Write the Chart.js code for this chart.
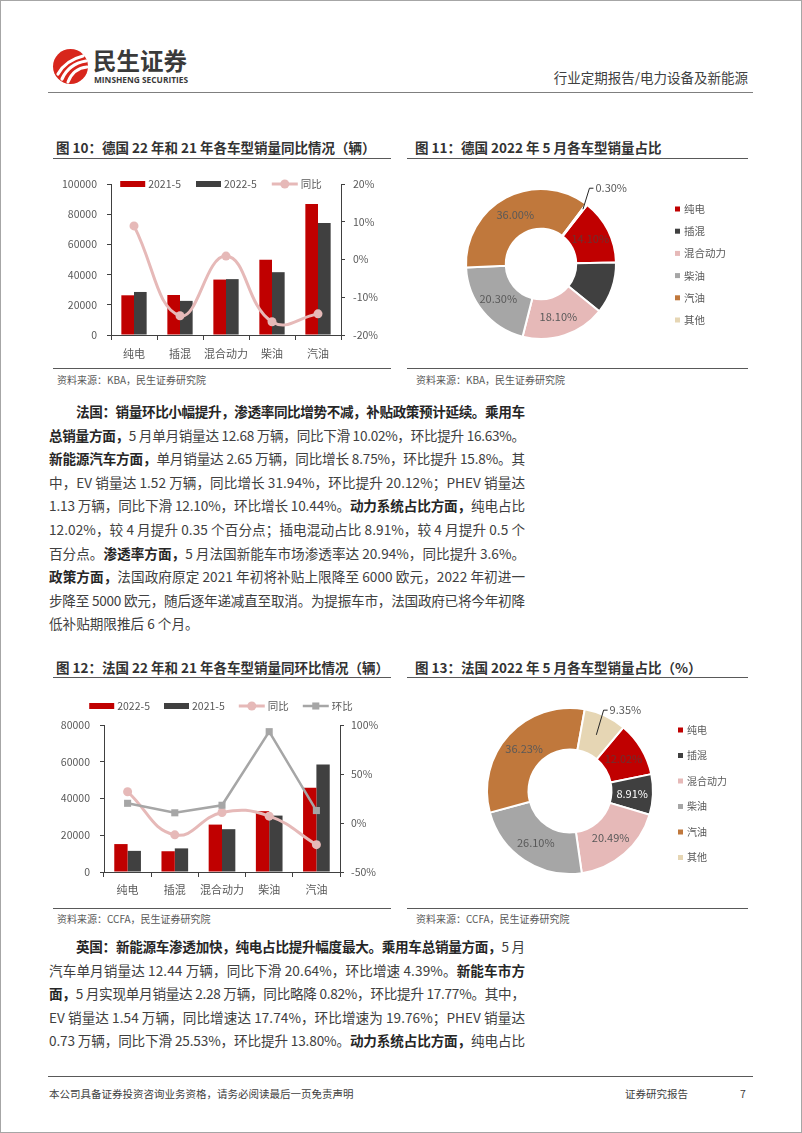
<!DOCTYPE html>
<html lang="zh-CN">
<head>
<meta charset="utf-8">
<script src="https://cdn.jsdelivr.net/npm/chart.js@4.4.0/dist/chart.umd.min.js"></script>
<style>
  html, body { margin: 0; padding: 0; background: #fff; }
  #page { position: relative; width: 800px; height: 1131px; overflow: hidden; border: 1px solid #a6a6a6;
          font-family: "Noto Sans CJK SC", sans-serif; color: #404040; background: #fff; }
  .rule { position: absolute; height: 0; border-top: 1.5px solid #595959; }
  .title { position: absolute; font-size: 13.5px; font-weight: 700; color: #333; line-height: 16px; white-space: nowrap; }
  .src { position: absolute; font-size: 10px; color: #595959; line-height: 12px; white-space: nowrap; }
  .ln { position: absolute; font-size: 13.6px; line-height: 18px; white-space: nowrap; color: #404040; }
  .ln b { color: #262626; }
  .foot { position: absolute; font-size: 10.5px; line-height: 14px; color: #404040; white-space: nowrap; }
  canvas { position: absolute; }
</style>
</head>
<body>
<div id="page">
  <!-- header -->
  <svg style="position:absolute;left:51px;top:47px" width="37" height="37" viewBox="0 0 37 37">
    <ellipse cx="18.5" cy="18.5" rx="17.5" ry="17.5" fill="#D8261C"/>
    <path d="M6 26 C 11 17, 19 11, 31 8" stroke="#fff" stroke-width="3.2" fill="none" stroke-linecap="round"/>
    <path d="M10 31 C 14 22, 22 15, 34 13" stroke="#fff" stroke-width="3.2" fill="none" stroke-linecap="round"/>
    <path d="M16 34 C 19 26, 25 20, 35 19" stroke="#fff" stroke-width="3" fill="none" stroke-linecap="round"/>
  </svg>
  <div style="position:absolute;left:92px;top:46px;font-size:23.5px;font-weight:700;color:#3a3a3a;line-height:26px;white-space:nowrap">民生证券</div>
  <div id="logoEn" style="position:absolute;left:93px;top:73px;font-family:'Open Sans',sans-serif;font-size:8.5px;font-weight:700;color:#3a3a3a;line-height:11px;white-space:nowrap;transform-origin:0 0">MINSHENG SECURITIES</div>
  <div style="position:absolute;right:53px;top:67px;font-size:13.5px;line-height:18px;color:#404040;white-space:nowrap">行业定期报告/电力设备及新能源</div>
  <div class="rule" style="left:47px;width:705px;top:91px;border-top:1.5px solid #7f7f7f"></div>

  <!-- figure titles, top row -->
  <div class="title" style="left:55px;top:138px">图 10：德国 22 年和 21 年各车型销量同比情况（辆）</div>
  <div class="title" style="left:414px;top:138px">图 11：德国 2022 年 5 月各车型销量占比</div>
  <div class="rule" style="left:52px;width:338px;top:157px"></div>
  <div class="rule" style="left:406px;width:341px;top:157px"></div>
  <canvas id="deBar" width="340" height="201" style="left:50px;top:165px"></canvas>
  <canvas id="deShare" width="347" height="206" style="left:405px;top:160px"></canvas>
  <div class="rule" style="left:52px;width:338px;top:367px"></div>
  <div class="rule" style="left:406px;width:341px;top:367px"></div>
  <div class="src" style="left:56px;top:373px">资料来源：KBA，民生证券研究院</div>
  <div class="src" style="left:415px;top:373px">资料来源：KBA，民生证券研究院</div>

  <!-- figure titles, bottom row -->
  <div class="title" style="left:55px;top:658px">图 12：法国 22 年和 21 年各车型销量同环比情况（辆）</div>
  <div class="title" style="left:414px;top:658px">图 13：法国 2022 年 5 月各车型销量占比（%）</div>
  <div class="rule" style="left:52px;width:338px;top:676px"></div>
  <div class="rule" style="left:406px;width:341px;top:676px"></div>
  <canvas id="frBar" width="340" height="216" style="left:50px;top:690px"></canvas>
  <canvas id="frShare" width="347" height="220" style="left:405px;top:685px"></canvas>
  <div class="rule" style="left:52px;width:338px;top:907px"></div>
  <div class="rule" style="left:406px;width:341px;top:907px"></div>
  <div class="src" style="left:56px;top:912px">资料来源：CCFA，民生证券研究院</div>
  <div class="src" style="left:415px;top:912px">资料来源：CCFA，民生证券研究院</div>

  <div id="body"></div>

  <!-- footer -->
  <div class="rule" style="left:47px;width:705px;top:1075px;border-top:1px solid #595959"></div>
  <div class="foot" style="left:48px;top:1086px">本公司具备证券投资咨询业务资格，请务必阅读最后一页免责声明</div>
  <div class="foot" style="left:624px;top:1086px">证券研究报告</div>
  <div class="foot" style="left:739px;top:1086px">7</div>
</div>

<script>
// ---- data ----
const categories = ['纯电', '插混', '混合动力', '柴油', '汽油'];

// 图10 德国
const deSales2021 = [26300, 26500, 36700, 49800, 86700];
const deSales2022 = [28500, 22600, 37000, 41600, 74100];
const deYoY = [8.9, -14.9, 0.9, -16.5, -14.4];

// 图12 法国
const frSales2022 = [15200, 11300, 25800, 33100, 45800];
const frSales2021 = [11500, 12850, 23300, 30700, 58500];
const frYoY = [31.9, -12.1, 10.7, 7.0, -22.1];
const frMoM = [20.1, 10.4, 18.1, 93.2, 12.7];

// 图11 / 图13 占比
const shareLabels = ['纯电', '插混', '混合动力', '柴油', '汽油', '其他'];
const deShare = [14.10, 11.20, 18.10, 20.30, 36.00, 0.30];
const frShare = [12.02, 8.91, 20.49, 26.10, 36.23, 9.35];

const RED = '#C00000', DARK = '#404040', PINK = '#E6B9B8', GREY = '#A6A6A6';
const BROWN = '#C0783C', BEIGE = '#E6D6B4';
const shareColors = [RED, DARK, PINK, GREY, BROWN, BEIGE];
const AXIS = '#404040';

Chart.defaults.font.family = '"Noto Sans CJK SC", sans-serif';
Chart.defaults.font.size = 10.5;
Chart.defaults.color = '#595959';
Chart.defaults.animation = false;
Chart.defaults.plugins.legend.display = false;
Chart.defaults.plugins.tooltip.enabled = false;

function drawMarker(ctx, style, x, y, r) {
  ctx.beginPath();
  if (style === 'rect') {
    const s = r * Math.SQRT1_2;
    ctx.rect(x - s, y - s, 2 * s, 2 * s);
  } else {
    ctx.arc(x, y, r, 0, Math.PI * 2);
  }
  ctx.fill();
}

// legend laid out in one row, centred on the canvas
function rowLegend(y, gap) {
  return {
    id: 'rowLegend',
    afterDraw(chart) {
      const ctx = chart.ctx;
      ctx.save();
      ctx.font = '10.5px "Noto Sans CJK SC", sans-serif';
      ctx.textBaseline = 'middle';
      const items = chart.data.datasets.map(ds => ({
        ds, w: ds.type === 'line' ? 26 : 25, tw: ctx.measureText(ds.label).width
      }));
      const total = items.reduce((s, it) => s + it.w + 3 + it.tw, 0) + gap * (items.length - 1);
      let x = (chart.width - total) / 2;
      items.forEach(it => {
        const ds = it.ds;
        if (ds.type === 'line') {
          ctx.strokeStyle = ds.borderColor;
          ctx.lineWidth = ds.borderWidth;
          ctx.beginPath();
          ctx.moveTo(x, y);
          ctx.lineTo(x + it.w, y);
          ctx.stroke();
          ctx.fillStyle = ds.pointBackgroundColor;
          drawMarker(ctx, ds.pointStyle, x + it.w / 2, y, ds.pointRadius);
        } else {
          ctx.fillStyle = ds.backgroundColor;
          ctx.fillRect(x, y - 3, it.w, 6);
        }
        x += it.w + 3;
        ctx.fillStyle = '#595959';
        ctx.fillText(ds.label, x, y);
        x += it.tw + gap;
      });
      ctx.restore();
    }
  };
}

// legend laid out as a column at the right of a doughnut
function columnLegend(x, y0, step, size) {
  return {
    id: 'columnLegend',
    afterDraw(chart) {
      const ctx = chart.ctx;
      const colors = chart.data.datasets[0].backgroundColor;
      ctx.save();
      ctx.font = size + 'px "Noto Sans CJK SC", sans-serif';
      ctx.textBaseline = 'middle';
      chart.data.labels.forEach((lab, i) => {
        const y = y0 + i * step;
        ctx.fillStyle = colors[i];
        ctx.fillRect(x, y - 2.5, 5, 5);
        ctx.fillStyle = '#595959';
        ctx.fillText(lab, x + 9, y);
      });
      ctx.restore();
    }
  };
}

// value labels on the slices, one of them with a leader line
function sliceLabels(cfg) {
  return {
    id: 'sliceLabels',
    afterDatasetsDraw(chart) {
      const ctx = chart.ctx;
      const ds = chart.data.datasets[0];
      const meta = chart.getDatasetMeta(0);
      ctx.save();
      ctx.font = '11px "Noto Sans CJK SC", sans-serif';
      ctx.textBaseline = 'middle';
      meta.data.forEach((arc, i) => {
        if (cfg.hide.includes(i)) return;
        const text = ds.data[i].toFixed(2) + '%';
        ctx.fillStyle = cfg.colors[i] || '#595959';
        if (cfg.callout && cfg.callout.index === i) {
          const c = cfg.callout;
          const mid = (arc.startAngle + arc.endAngle) / 2;
          const r = arc.outerRadius - c.inset;
          const sx = arc.x + Math.cos(mid) * r, sy = arc.y + Math.sin(mid) * r;
          const ex = sx + c.dx, ey = sy + c.dy;
          ctx.strokeStyle = '#262626';
          ctx.lineWidth = 1;
          ctx.beginPath();
          ctx.moveTo(sx, sy);
          ctx.lineTo(ex, ey);
          ctx.lineTo(ex + 4, ey);
          ctx.stroke();
          ctx.fillStyle = '#595959';
          ctx.textAlign = 'left';
          ctx.fillText(text, ex + 6, ey);
        } else {
          const p = arc.tooltipPosition();
          ctx.textAlign = 'center';
          ctx.fillText(text, p.x, p.y);
        }
      });
      ctx.restore();
    }
  };
}

function barScales(opt) {
  return {
    x: {
      grid: { drawOnChartArea: false, drawTicks: true, tickLength: 5, color: AXIS },
      border: { display: true, color: AXIS },
      ticks: { padding: opt.xPad, font: { size: 11 }, maxRotation: 0, minRotation: 0, autoSkip: false },
      afterFit: s => { s.height = opt.xH; }
    },
    y: {
      position: 'left', min: 0, max: opt.leftMax, ticks: { stepSize: opt.leftStep, padding: 10, callback: v => String(v) },
      grid: { drawOnChartArea: false, tickLength: 4, color: AXIS },
      border: { display: true, color: AXIS },
      afterFit: s => { s.width = opt.leftW; }
    },
    y1: {
      position: 'right', min: opt.rMin, max: opt.rMax, ticks: { stepSize: opt.rStep, padding: opt.rPad, callback: v => v + '%' },
      grid: { drawOnChartArea: false, tickLength: 4, color: AXIS },
      border: { display: true, color: AXIS },
      afterFit: s => { s.width = opt.rightW; }
    }
  };
}

// 图10
new Chart(document.getElementById('deBar'), {
  type: 'bar',
  data: {
    labels: categories,
    datasets: [
      { type: 'bar', label: '2021-5', data: deSales2021, backgroundColor: RED, yAxisID: 'y', order: 2,
        categoryPercentage: 0.55, barPercentage: 1 },
      { type: 'bar', label: '2022-5', data: deSales2022, backgroundColor: DARK, yAxisID: 'y', order: 2,
        categoryPercentage: 0.55, barPercentage: 1 },
      { type: 'line', label: '同比', data: deYoY, yAxisID: 'y1', order: 1,
        borderColor: PINK, backgroundColor: PINK, borderWidth: 3, tension: 0.45,
        pointStyle: 'circle', pointRadius: 4.5, pointBackgroundColor: PINK, pointBorderColor: PINK, pointBorderWidth: 0 }
    ]
  },
  options: {
    responsive: false,
    layout: { padding: { top: 18, left: 0, right: 0, bottom: 0 } },
    scales: barScales({ xPad: 7, xH: 32, leftMax: 100000, leftStep: 20000, leftW: 60,
                        rMin: -20, rMax: 20, rStep: 10, rPad: 8, rightW: 50 })
  },
  plugins: [rowLegend(18, 15)]
});

// 图12
new Chart(document.getElementById('frBar'), {
  type: 'bar',
  data: {
    labels: categories,
    datasets: [
      { type: 'bar', label: '2022-5', data: frSales2022, backgroundColor: RED, yAxisID: 'y', order: 3,
        categoryPercentage: 0.565, barPercentage: 1 },
      { type: 'bar', label: '2021-5', data: frSales2021, backgroundColor: DARK, yAxisID: 'y', order: 3,
        categoryPercentage: 0.565, barPercentage: 1 },
      { type: 'line', label: '同比', data: frYoY, yAxisID: 'y1', order: 2,
        borderColor: PINK, backgroundColor: PINK, borderWidth: 3, tension: 0.45,
        pointStyle: 'circle', pointRadius: 4.5, pointBackgroundColor: PINK, pointBorderColor: PINK, pointBorderWidth: 0 },
      { type: 'line', label: '环比', data: frMoM, yAxisID: 'y1', order: 1,
        borderColor: GREY, backgroundColor: GREY, borderWidth: 2.5, tension: 0,
        pointStyle: 'rect', pointRadius: 5, pointBackgroundColor: GREY, pointBorderColor: GREY, pointBorderWidth: 0 }
    ]
  },
  options: {
    responsive: false,
    layout: { padding: { top: 34, left: 0, right: 0, bottom: 0 } },
    scales: barScales({ xPad: 6, xH: 35, leftMax: 80000, leftStep: 20000, leftW: 53,
                        rMin: -50, rMax: 100, rStep: 50, rPad: 7, rightW: 51 })
  },
  plugins: [rowLegend(15, 14)]
});

// 图11
new Chart(document.getElementById('deShare'), {
  type: 'doughnut',
  data: {
    labels: shareLabels,
    datasets: [{ data: deShare, backgroundColor: shareColors, borderColor: '#fff', borderWidth: 2 }]
  },
  options: {
    responsive: false,
    rotation: 38,
    cutout: '47%',
    layout: { padding: { left: 59, top: 27, right: 136, bottom: 27 } }
  },
  plugins: [
    sliceLabels({ hide: [1], colors: ['#6b3030'], callout: { index: 5, inset: 6, dx: 6.5, dy: -21 } }),
    columnLegend(269, 48, 22.2, 10.5)
  ]
});

// 图13
new Chart(document.getElementById('frShare'), {
  type: 'doughnut',
  data: {
    labels: shareLabels,
    datasets: [{ data: frShare, backgroundColor: shareColors, borderColor: '#fff', borderWidth: 2 }]
  },
  options: {
    responsive: false,
    rotation: 40,
    cutout: '50%',
    layout: { padding: { left: 80, top: 21, right: 99, bottom: 31 } }
  },
  plugins: [
    sliceLabels({ hide: [], colors: ['#6b3030', '#ffffff'], callout: { index: 5, inset: 21, dx: 7.3, dy: -24.7 } }),
    columnLegend(272, 44, 25.5, 10)
  ]
});

// ---- body text, one entry per printed line ----
const para1 = [
  '<b>法国：销量环比小幅提升，渗透率同比增势不减，补贴政策预计延续。乘用车</b>',
  '<b>总销量方面，</b>5 月单月销量达 12.68 万辆，同比下滑 10.02%，环比提升 16.63%。',
  '<b>新能源汽车方面，</b>单月销量达 2.65 万辆，同比增长 8.75%，环比提升 15.8%。其',
  '中，EV 销量达 1.52 万辆，同比增长 31.94%，环比提升 20.12%；PHEV 销量达',
  '1.13 万辆，同比下滑 12.10%，环比增长 10.44%。<b>动力系统占比方面，</b>纯电占比',
  '12.02%，较 4 月提升 0.35 个百分点；插电混动占比 8.91%，较 4 月提升 0.5 个',
  '百分点。<b>渗透率方面，</b>5 月法国新能车市场渗透率达 20.94%，同比提升 3.6%。',
  '<b>政策方面，</b>法国政府原定 2021 年初将补贴上限降至 6000 欧元，2022 年初进一',
  '步降至 5000 欧元，随后逐年递减直至取消。为提振车市，法国政府已将今年初降',
  '低补贴期限推后 6 个月。'
];
const para2 = [
  '<b>英国：新能源车渗透加快，纯电占比提升幅度最大。乘用车总销量方面，</b>5 月',
  '汽车单月销量达 12.44 万辆，同比下滑 20.64%，环比增速 4.39%。<b>新能车市方</b>',
  '<b>面，</b>5 月实现单月销量达 2.28 万辆，同比略降 0.82%，环比提升 17.77%。其中，',
  'EV 销量达 1.54 万辆，同比增速达 17.74%，环比增速为 19.76%；PHEV 销量达',
  '0.73 万辆，同比下滑 25.53%，环比提升 13.80%。<b>动力系统占比方面，</b>纯电占比'
];

function layPara(lines, firstY, lastJustified) {
  const body = document.getElementById('body');
  lines.forEach((html, i) => {
    const el = document.createElement('div');
    el.className = 'ln';
    const left = i === 0 ? 75 : 48;
    el.style.left = left + 'px';
    el.style.top = (firstY + i * 23.6 - 10) + 'px';
    el.innerHTML = '<span>' + html + '</span>';
    body.appendChild(el);
    if (i < lines.length - 1 || lastJustified) {
      const span = el.firstChild;
      const n = span.textContent.length;
      const w = span.getBoundingClientRect().width;
      const target = 524 - left;
      span.style.letterSpacing = ((target - w) / (n - 1)) + 'px';
    }
  });
}
layPara(para1, 411, false);
layPara(para2, 946, true);

const en = document.getElementById('logoEn');
en.style.transform = 'scaleX(' + (94 / en.getBoundingClientRect().width) + ')';
</script>
</body>
</html>
